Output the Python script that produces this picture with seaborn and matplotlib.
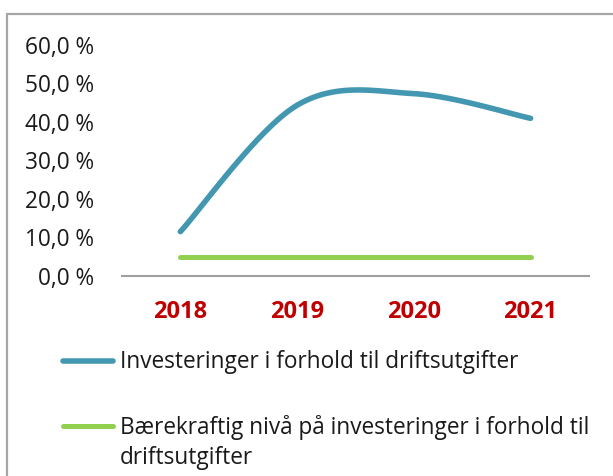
import numpy as np
import pandas as pd
import seaborn as sns
import matplotlib.pyplot as plt
from matplotlib.lines import Line2D
from matplotlib.patches import Rectangle

# Data
years = ["2018", "2019", "2020", "2021"]
investeringer = [11.5, 44.3, 47.3, 40.9]
baerekraftig = [5.0, 5.0, 5.0, 5.0]
y_ticks = [0, 10, 20, 30, 40, 50, 60]
y_labels = ["0,0 %", "10,0 %", "20,0 %", "30,0 %", "40,0 %", "50,0 %", "60,0 %"]
label_inv = "Investeringer i forhold til driftsutgifter"
label_baer = "Bærekraftig nivå på investeringer i forhold til\ndriftsutgifter"

BLUE = "#4397B1"
GREEN = "#92D050"
RED = "#C00000"
FS = 16.3


def smooth(values, n=40):
    # Excel-style "smoothed line": cubic Bezier segments between the points
    pts = np.column_stack([np.arange(len(values), dtype=float), np.array(values, float)])
    ext = np.vstack([pts[0], pts, pts[-1]])
    t = np.linspace(0, 1, n)[:, None]
    out = []
    for i in range(len(pts) - 1):
        p0, p1, p2, p3 = ext[i], ext[i + 1], ext[i + 2], ext[i + 3]
        c1 = p1 + (p2 - p0) / 6
        c2 = p2 - (p3 - p1) / 6
        seg = (1 - t) ** 3 * p1 + 3 * (1 - t) ** 2 * t * c1 + 3 * (1 - t) * t ** 2 * c2 + t ** 3 * p2
        out.append(seg if i == 0 else seg[1:])
    return np.vstack(out)


sns.set_style("white")
plt.rcParams['font.family'] = ['Open Sans', 'DejaVu Sans']

curve = smooth(investeringer)
df_inv = pd.DataFrame({"x": curve[:, 0], "y": curve[:, 1]})
df_baer = pd.DataFrame({"x": np.arange(len(years)), "y": baerekraftig})

fig = plt.figure(figsize=(6.13, 4.76), dpi=100)
ax = fig.add_axes([0.199, 0.4202, 0.7618, 0.4859])

sns.lineplot(data=df_inv, x="x", y="y", sort=False, color=BLUE, linewidth=4.0,
             solid_capstyle="round", ax=ax)
sns.lineplot(data=df_baer, x="x", y="y", sort=False, color=GREEN, linewidth=3.6,
             solid_capstyle="round", ax=ax)

ax.set_xlim(-0.5, len(years) - 0.5)
ax.set_ylim(0, 60)
ax.set_xticks(range(len(years)), years)
ax.set_yticks(y_ticks, y_labels)
ax.set_xlabel("")
ax.set_ylabel("")
ax.tick_params(axis="x", length=0, pad=17, labelsize=17, labelcolor=RED)
ax.tick_params(axis="y", length=0, pad=20, labelsize=FS, labelcolor="#1a1a1a")
for lbl in ax.get_xticklabels():
    lbl.set_fontweight("bold")

for side in ["top", "right", "left"]:
    ax.spines[side].set_visible(False)
ax.spines["bottom"].set_color("#A0A0A0")
ax.spines["bottom"].set_linewidth(1.5)
for line in ax.lines:
    line.set_clip_on(False)

# legend below the plot, key line beside the first text line (as in Excel)
H = 476.0
legend_rows = [(BLUE, 4.0, label_inv, 360.7, 368.3), (GREEN, 3.6, label_baer, 425.7, 434.0)]
for color, lw, text, y_key, y_base in legend_rows:
    fig.add_artist(Line2D([63 / 613, 113 / 613], [1 - y_key / H, 1 - y_key / H],
                          color=color, linewidth=lw, solid_capstyle="round"))
    for k, part in enumerate(text.split("\n")):
        fig.text(120 / 613, 1 - (y_base + 30 * k) / H, part, fontsize=FS, color="#1a1a1a",
                 ha="left", va="baseline")

# grey chart-area border (only left and top visible in the crop)
fig.patches.append(Rectangle((7 / 613, -0.1), 1.2, 1 - 14 / H + 0.1, transform=fig.transFigure,
                             fill=False, edgecolor="#A6A6A6", linewidth=1.6))

fig.savefig("out.png", dpi=100)
